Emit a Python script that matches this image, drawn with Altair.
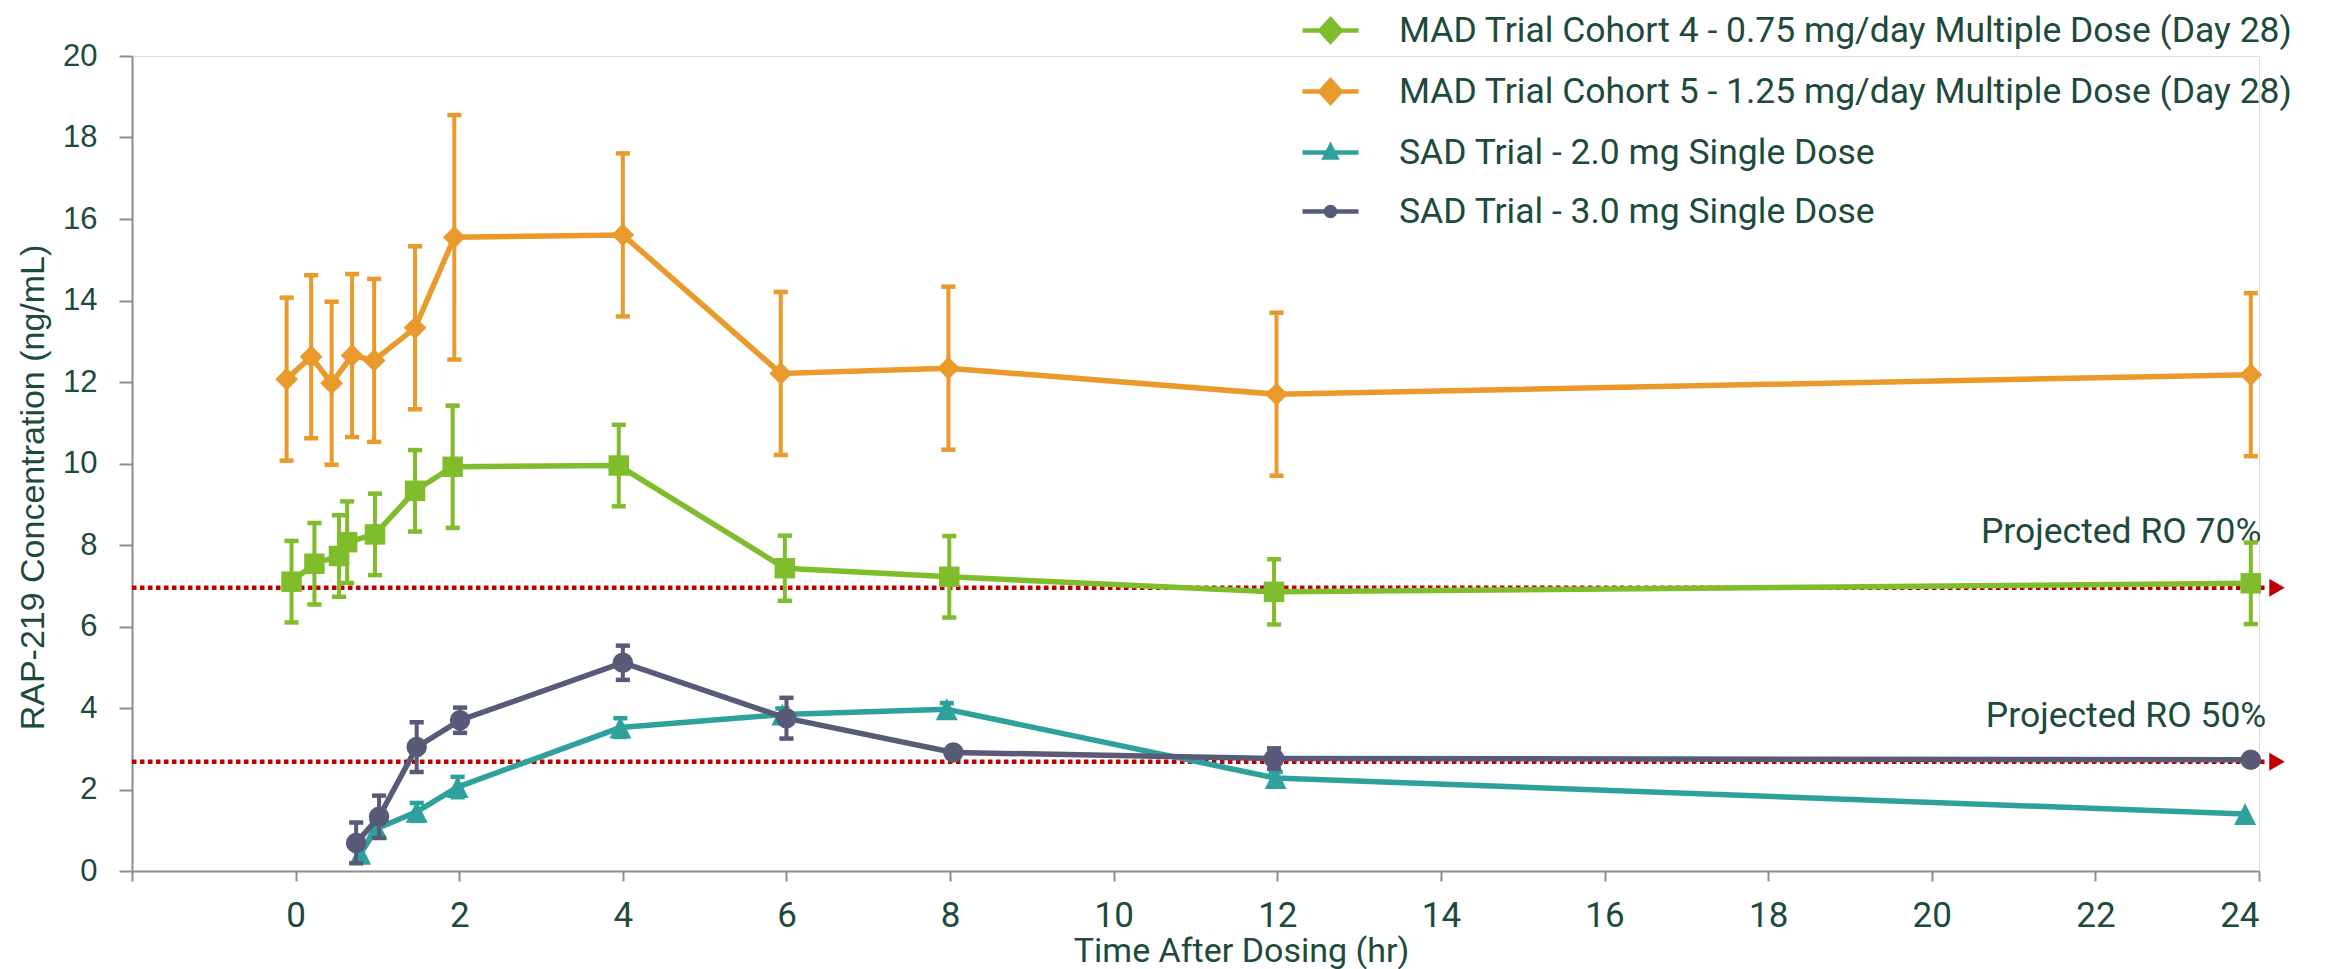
import altair as alt
import pandas as pd

# ---------------- data ----------------
SERIES = [
    "MAD Trial Cohort 4 - 0.75 mg/day Multiple Dose (Day 28)",
    "MAD Trial Cohort 5 - 1.25 mg/day Multiple Dose (Day 28)",
    "SAD Trial - 2.0 mg Single Dose",
    "SAD Trial - 3.0 mg Single Dose",
]
COLORS = ["#80BD2C", "#E99A2B", "#2EA19C", "#575B78"]

mad4_time = [-0.05, 0.23, 0.53, 0.63, 0.97, 1.46, 1.92, 3.95, 5.98, 7.99, 11.96, 23.9]
mad4_conc = [7.10, 7.54, 7.73, 8.07, 8.26, 9.33, 9.92, 9.95, 7.43, 7.22, 6.85, 7.06]
mad4_err = [1.0, 1.0, 1.0, 1.0, 1.0, 1.0, 1.5, 1.0, 0.8, 1.0, 0.8, 1.0]

mad5_time = [-0.11, 0.19, 0.44, 0.69, 0.96, 1.46, 1.94, 4.0, 5.93, 7.98, 11.99, 23.9]
mad5_conc = [12.07, 12.62, 11.97, 12.65, 12.53, 13.33, 15.55, 15.61, 12.21, 12.34, 11.70, 12.18]
mad5_err = [2.0, 2.0, 2.0, 2.0, 2.0, 2.0, 3.0, 2.0, 2.0, 2.0, 2.0, 2.0]

sad2_time = [0.79, 0.99, 1.48, 1.98, 3.97, 5.95, 7.96, 11.98, 23.83]
sad2_conc = [0.42, 1.04, 1.45, 2.06, 3.52, 3.84, 3.97, 2.28, 1.40]
sad2_err = [0.2, 0.2, 0.22, 0.25, 0.23, 0.15, 0.15, 0.15, 0.0]

sad3_time = [0.74, 1.02, 1.48, 2.01, 4.0, 6.0, 8.04, 11.96, 23.9]
sad3_conc = [0.69, 1.33, 3.04, 3.70, 5.11, 3.75, 2.91, 2.76, 2.73]
sad3_err = [0.5, 0.52, 0.61, 0.31, 0.42, 0.5, 0.0, 0.25, 0.0]

ref_labels = ["Projected RO 70%", "Projected RO 50%"]
ref_conc = [6.95, 2.68]
ref_start = [-2, -2]
ref_end = [24.1, 24.1]
ref_arrow_time = [24.22, 24.22]
ref_label_time = [24.03, 24.09]
ref_label_conc = [8.05, 3.54]

x_ticks = list(range(-2, 25, 2))
y_ticks = list(range(0, 21, 2))

# ---------------- tables ----------------
rows = []
for name, t, c, e in [
    (SERIES[0], mad4_time, mad4_conc, mad4_err),
    (SERIES[1], mad5_time, mad5_conc, mad5_err),
    (SERIES[2], sad2_time, sad2_conc, sad2_err),
    (SERIES[3], sad3_time, sad3_conc, sad3_err),
]:
    for ti, ci, ei in zip(t, c, e):
        rows.append({"series": name, "time": ti, "conc": ci, "err": ei,
                     "lo": ci - ei, "hi": ci + ei})
df = pd.DataFrame(rows)

ref_df = pd.DataFrame({"label": ref_labels, "conc": ref_conc, "time": ref_start,
                       "time2": ref_end, "atime": ref_arrow_time,
                       "ltime": ref_label_time, "lconc": ref_label_conc})

TEXT = "#1C4A3B"
AXIS_GRAY = "#8C8C8C"
FR_FONT = "Roboto"
AR_FONT = "Liberation Sans"

xscale = alt.Scale(domain=[-2, 24], nice=False, zero=False)
yscale = alt.Scale(domain=[0, 20], nice=False, zero=True)

xaxis = alt.Axis(values=x_ticks, labelExpr="datum.value < 0 ? '' : datum.label",
                 grid=False, domainColor=AXIS_GRAY, domainWidth=2, tickColor=AXIS_GRAY,
                 tickWidth=2, tickSize=10, labelFont=FR_FONT, labelFontSize=35,
                 labelColor=TEXT, labelPadding=17, title="Time After Dosing (hr)",
                 titleFont=FR_FONT, titleFontSize=34, titleFontWeight="normal",
                 titleColor=TEXT, titleX=1109, titleY=90, titleBaseline="alphabetic",
                 titleAlign="center")
yaxis = alt.Axis(values=y_ticks, grid=False, domainColor=AXIS_GRAY, domainWidth=2,
                 tickColor=AXIS_GRAY, tickWidth=2, tickSize=13, labelFont=AR_FONT,
                 labelFontSize=31, labelColor=TEXT, labelPadding=22,
                 title="RAP-219 Concentration (ng/mL)", titleFont=AR_FONT,
                 titleFontSize=34, titleFontWeight="normal", titleColor=TEXT,
                 titleX=-89, titleY=431, titleAngle=270, titleBaseline="alphabetic",
                 titleAlign="center")

X = alt.X("time:Q", scale=xscale, axis=xaxis)
Y = alt.Y("conc:Q", scale=yscale, axis=yaxis)

base = alt.Chart(df)

layers = []

# reference lines + arrow heads + labels
refs = alt.Chart(ref_df)
layers.append(refs.mark_rule(color="#C00000", strokeWidth=4.5, strokeDash=[4.5, 3.5]).encode(
    x=X, x2="time2:Q", y=Y))
layers.append(refs.mark_point(shape="triangle-right", filled=True, size=320,
                              color="#C00000", opacity=1).encode(
    x=alt.X("atime:Q", scale=xscale, axis=xaxis), y=Y))
layers.append(refs.mark_text(align="right", baseline="alphabetic", font=FR_FONT,
                             fontSize=35.5, color=TEXT).encode(
    x=alt.X("ltime:Q", scale=xscale, axis=xaxis),
    y=alt.Y("lconc:Q", scale=yscale, axis=yaxis), text="label:N"))

DIAMOND = "M0,-1L1,0L0,1L-1,0Z"
TRIANGLE = "M0,-1L1,1L-1,1Z"
chart_shapes = ["square", DIAMOND, TRIANGLE, "circle"]
chart_sizes = [420, 520, 480, 420]
order = [1, 0, 2, 3]
for i in order:
    name, color = SERIES[i], COLORS[i]
    d = base.transform_filter(alt.datum.series == name)
    e = d.transform_filter(alt.datum.err > 0)
    layers.append(e.mark_rule(color=color, strokeWidth=4).encode(
        x=X, y=alt.Y("lo:Q", scale=yscale, axis=yaxis), y2="hi:Q"))
    for fld in ["lo", "hi"]:
        layers.append(e.mark_point(shape="stroke", size=200, strokeWidth=4.5, color=color,
                                   filled=False, opacity=1).encode(
            x=X, y=alt.Y(f"{fld}:Q", scale=yscale, axis=yaxis)))
    layers.append(d.mark_line(color=color, strokeWidth=5.5).encode(x=X, y=Y))
    layers.append(d.mark_point(shape=chart_shapes[i], filled=True, size=chart_sizes[i],
                               color=color, opacity=1, strokeWidth=0).encode(x=X, y=Y))

# legend layer (invisible points, visible legend)
LEG_DIAMOND = "M-1,0H1M0,-0.4L0.36,0L0,0.4L-0.36,0Z"
LEG_TRIANGLE = "M-1,0H1M0,-0.22L0.2,0.18L-0.2,0.18Z"
LEG_CIRCLE = "M-1,0H1M0.16,0A0.16,0.16,0,1,1,-0.16,0A0.16,0.16,0,1,1,0.16,0Z"
leg_shapes = [LEG_DIAMOND, LEG_DIAMOND, LEG_TRIANGLE, LEG_CIRCLE]
legend = alt.Legend(title=None, orient="none", legendX=1168, legendY=-56,
                    symbolSize=3136, symbolStrokeWidth=4.5, symbolOpacity=1,
                    labelFont=FR_FONT, labelFontSize=35.5, labelColor=TEXT,
                    labelLimit=1500, labelOffset=38, rowPadding=10, padding=0)
layers.append(base.mark_point(filled=True, opacity=0, strokeWidth=4).encode(
    x=X, y=Y,
    color=alt.Color("series:N", scale=alt.Scale(domain=SERIES, range=COLORS), legend=legend),
    stroke=alt.Stroke("series:N", scale=alt.Scale(domain=SERIES, range=COLORS), legend=legend),
    shape=alt.Shape("series:N", scale=alt.Scale(domain=SERIES, range=leg_shapes), legend=legend),
))

chart = alt.layer(*layers).properties(
    width=2127, height=815,
    autosize=alt.AutoSizeParams(type="none"),
    padding={"left": 124, "top": 48, "right": 58, "bottom": 98},
).configure_view(stroke=None).configure(background="white")

chart.save("out.html", embed_options={"renderer": "svg", "actions": False})
